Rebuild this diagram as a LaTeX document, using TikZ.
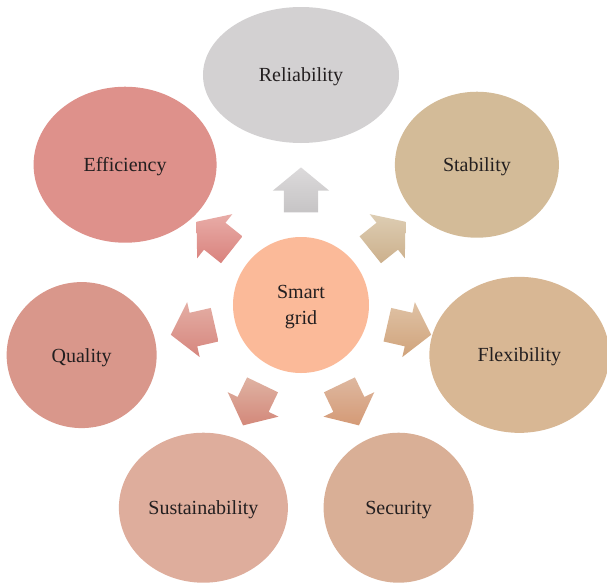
\documentclass[tikz,border=0pt]{standalone}
\usepackage{fontspec}
\setmainfont{Liberation Serif}
\usetikzlibrary{shapes.geometric, shapes.arrows}

\definecolor{txtcol}{HTML}{231F20}
\definecolor{hubfill}{HTML}{FBBA99}
\definecolor{relfill}{HTML}{D3D1D2}
\definecolor{efffill}{HTML}{DE918B}
\definecolor{stafill}{HTML}{D3BB98}
\definecolor{flxfill}{HTML}{D8B794}
\definecolor{qualfill}{HTML}{D9978B}
\definecolor{susfill}{HTML}{DEAD9C}
\definecolor{secfill}{HTML}{D9AF96}
% arrow gradients (light top, dark bottom)
\definecolor{reltop}{HTML}{DCDADB}\definecolor{relbot}{HTML}{C6C4C5}
\definecolor{efftop}{HTML}{E8ACA7}\definecolor{effbot}{HTML}{D9827D}
\definecolor{qualtop}{HTML}{E4AEA4}\definecolor{qualbot}{HTML}{D6867E}
\definecolor{sustop}{HTML}{DFB3A3}\definecolor{susbot}{HTML}{D3887A}
\definecolor{sectop}{HTML}{DEB8A0}\definecolor{secbot}{HTML}{D49A76}
\definecolor{flxtop}{HTML}{DFC2A5}\definecolor{flxbot}{HTML}{D0A37B}
\definecolor{statop}{HTML}{DDCDB3}\definecolor{stabot}{HTML}{CCB08C}

\begin{document}
\begin{tikzpicture}[
    x=1pt, y=1pt,
    bubble/.style={ellipse, inner sep=0pt, align=center, text=txtcol, text depth=0pt, font=\fontsize{20}{26}\selectfont},
    hub/.style={circle, fill=hubfill, minimum size=136pt, inner sep=0pt, align=center, text=txtcol, text depth=0pt, font=\fontsize{20}{26}\selectfont},
    blockarrow/.style={single arrow, inner xsep=0pt, inner ysep=17pt, minimum height=45pt,
        single arrow head extend=11pt, single arrow tip angle=101},
    tinted/.style 2 args={top color=#1, bottom color=#2}
]
\useasboundingbox (-301,-277) rectangle (306,305);

% Centre
\node[hub] (hub) at (0,0) {Smart\\grid};

% Outer bubbles
\node[bubble, fill=relfill, minimum width=196pt, minimum height=136pt] (rel) at (90:230) {Reliability};
\node[bubble, fill=efffill, minimum width=183pt, minimum height=156pt] (eff) at (141.43:225) {Efficiency};
\node[bubble, fill=qualfill, minimum width=150pt, minimum height=146pt] (qual) at (192.86:225) {Quality};
\node[bubble, fill=susfill, minimum width=169pt, minimum height=150pt] (sus) at (244.29:225) {Sustainability};
\node[bubble, fill=secfill, minimum width=150pt, minimum height=150pt] (sec) at (295.71:225) {Security};
\node[bubble, fill=flxfill, minimum width=180pt, minimum height=156pt] (flx) at (347.14:224) {Flexibility};
\node[bubble, fill=stafill, minimum width=164pt, minimum height=146pt] (sta) at (38.57:225) {Stability};

% Block arrows
\node[blockarrow, tinted={reltop}{relbot}, rotate=90] (arel) at (90:108) {};
\node[blockarrow, tinted={efftop}{effbot}, rotate=141.43] (aeff) at (141.43:104) {};
\node[blockarrow, tinted={qualtop}{qualbot}, rotate=192.86] (aqual) at (192.86:104) {};
\node[blockarrow, tinted={sustop}{susbot}, rotate=244.29] (asus) at (244.29:104) {};
\node[blockarrow, tinted={sectop}{secbot}, rotate=295.71] (asec) at (295.71:104) {};
\node[blockarrow, tinted={flxtop}{flxbot}, rotate=347.14] (aflx) at (347.14:104) {};
\node[blockarrow, tinted={statop}{stabot}, rotate=38.57] (asta) at (38.57:104) {};

\end{tikzpicture}
\end{document}
